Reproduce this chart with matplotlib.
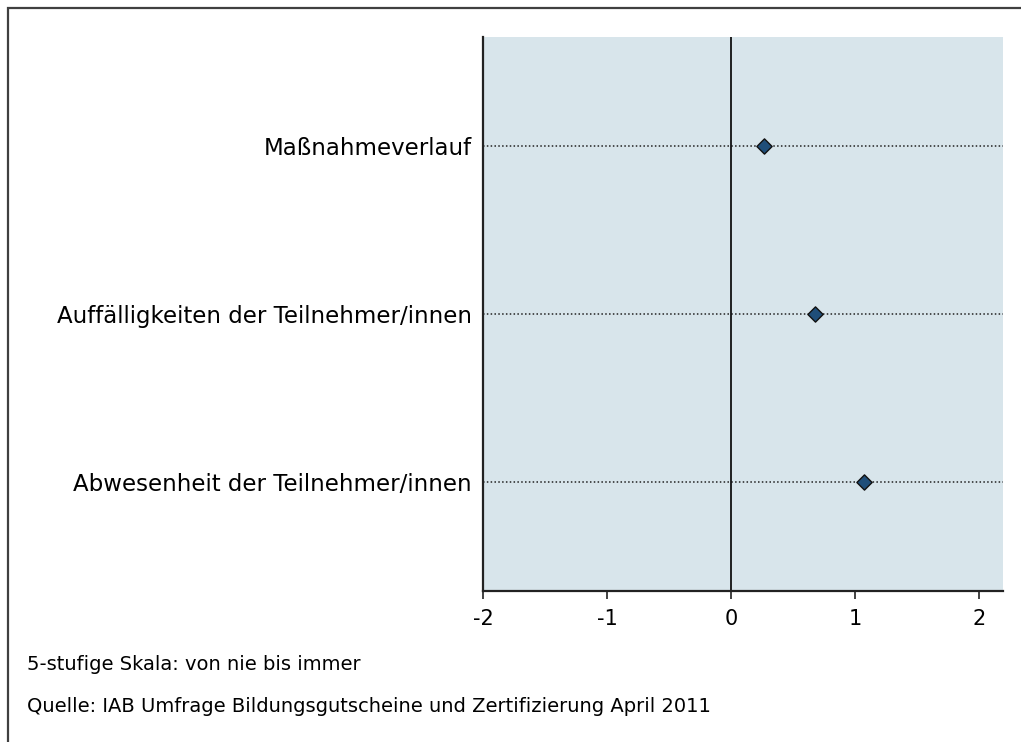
import matplotlib
matplotlib.use("Agg")
import matplotlib.pyplot as plt
from matplotlib.patches import Rectangle

# Data
categories = ["Maßnahmeverlauf",
              "Auffälligkeiten der Teilnehmer/innen",
              "Abwesenheit der Teilnehmer/innen"]
values = [0.27, 0.68, 1.07]
xticks = [-2, -1, 0, 1, 2]
notes = ["5-stufige Skala: von nie bis immer",
         "Quelle: IAB Umfrage Bildungsgutscheine und Zertifizierung April 2011"]

plt.rcParams["font.family"] = ["DejaVu Sans"]

fig = plt.figure(figsize=(10.21, 7.42), dpi=100)
fig.patch.set_facecolor("white")

# outer frame (left and top edges visible)
fig.patches.append(Rectangle((8 / 1021, -0.1), 1.2, 1 - 8 / 742 + 0.1,
                             transform=fig.transFigure, fill=False,
                             edgecolor="#404040", linewidth=1.6))

ax = fig.add_axes([483 / 1021, 151 / 742, 520 / 1021, 554 / 742])
ax.set_facecolor("#d8e5eb")

ypos = list(range(len(categories)))
for y in ypos:
    ax.axhline(y, color="#222222", linestyle=(0, (1, 1.5)), linewidth=1.1, zorder=1)
ax.axvline(0, color="#111111", linewidth=1.3, zorder=2)
ax.scatter(values, ypos, marker="D", s=60, color="#1f4e79",
           edgecolor="#111111", linewidth=1.0, zorder=3)

ax.set_xlim(-2, 2.195)
ax.set_ylim(len(categories) - 1 + 0.65, -0.65)
ax.set_xticks(xticks)
ax.set_xticklabels([str(t) for t in xticks], fontsize=15)
ax.set_yticks(ypos)
ax.set_yticklabels(categories, fontsize=16.5)
ax.tick_params(axis="y", length=0, pad=8)
ax.tick_params(axis="x", length=6, width=1.2, color="#222222", pad=7)
for side in ["top", "right"]:
    ax.spines[side].set_visible(False)
for side in ["left", "bottom"]:
    ax.spines[side].set_color("#222222")
    ax.spines[side].set_linewidth(1.6)

fig.text(27 / 1021, 1 - 665 / 742, notes[0], fontsize=14, va="center")
fig.text(27 / 1021, 1 - 707 / 742, notes[1], fontsize=14, va="center")

fig.savefig("out.png", dpi=100)
